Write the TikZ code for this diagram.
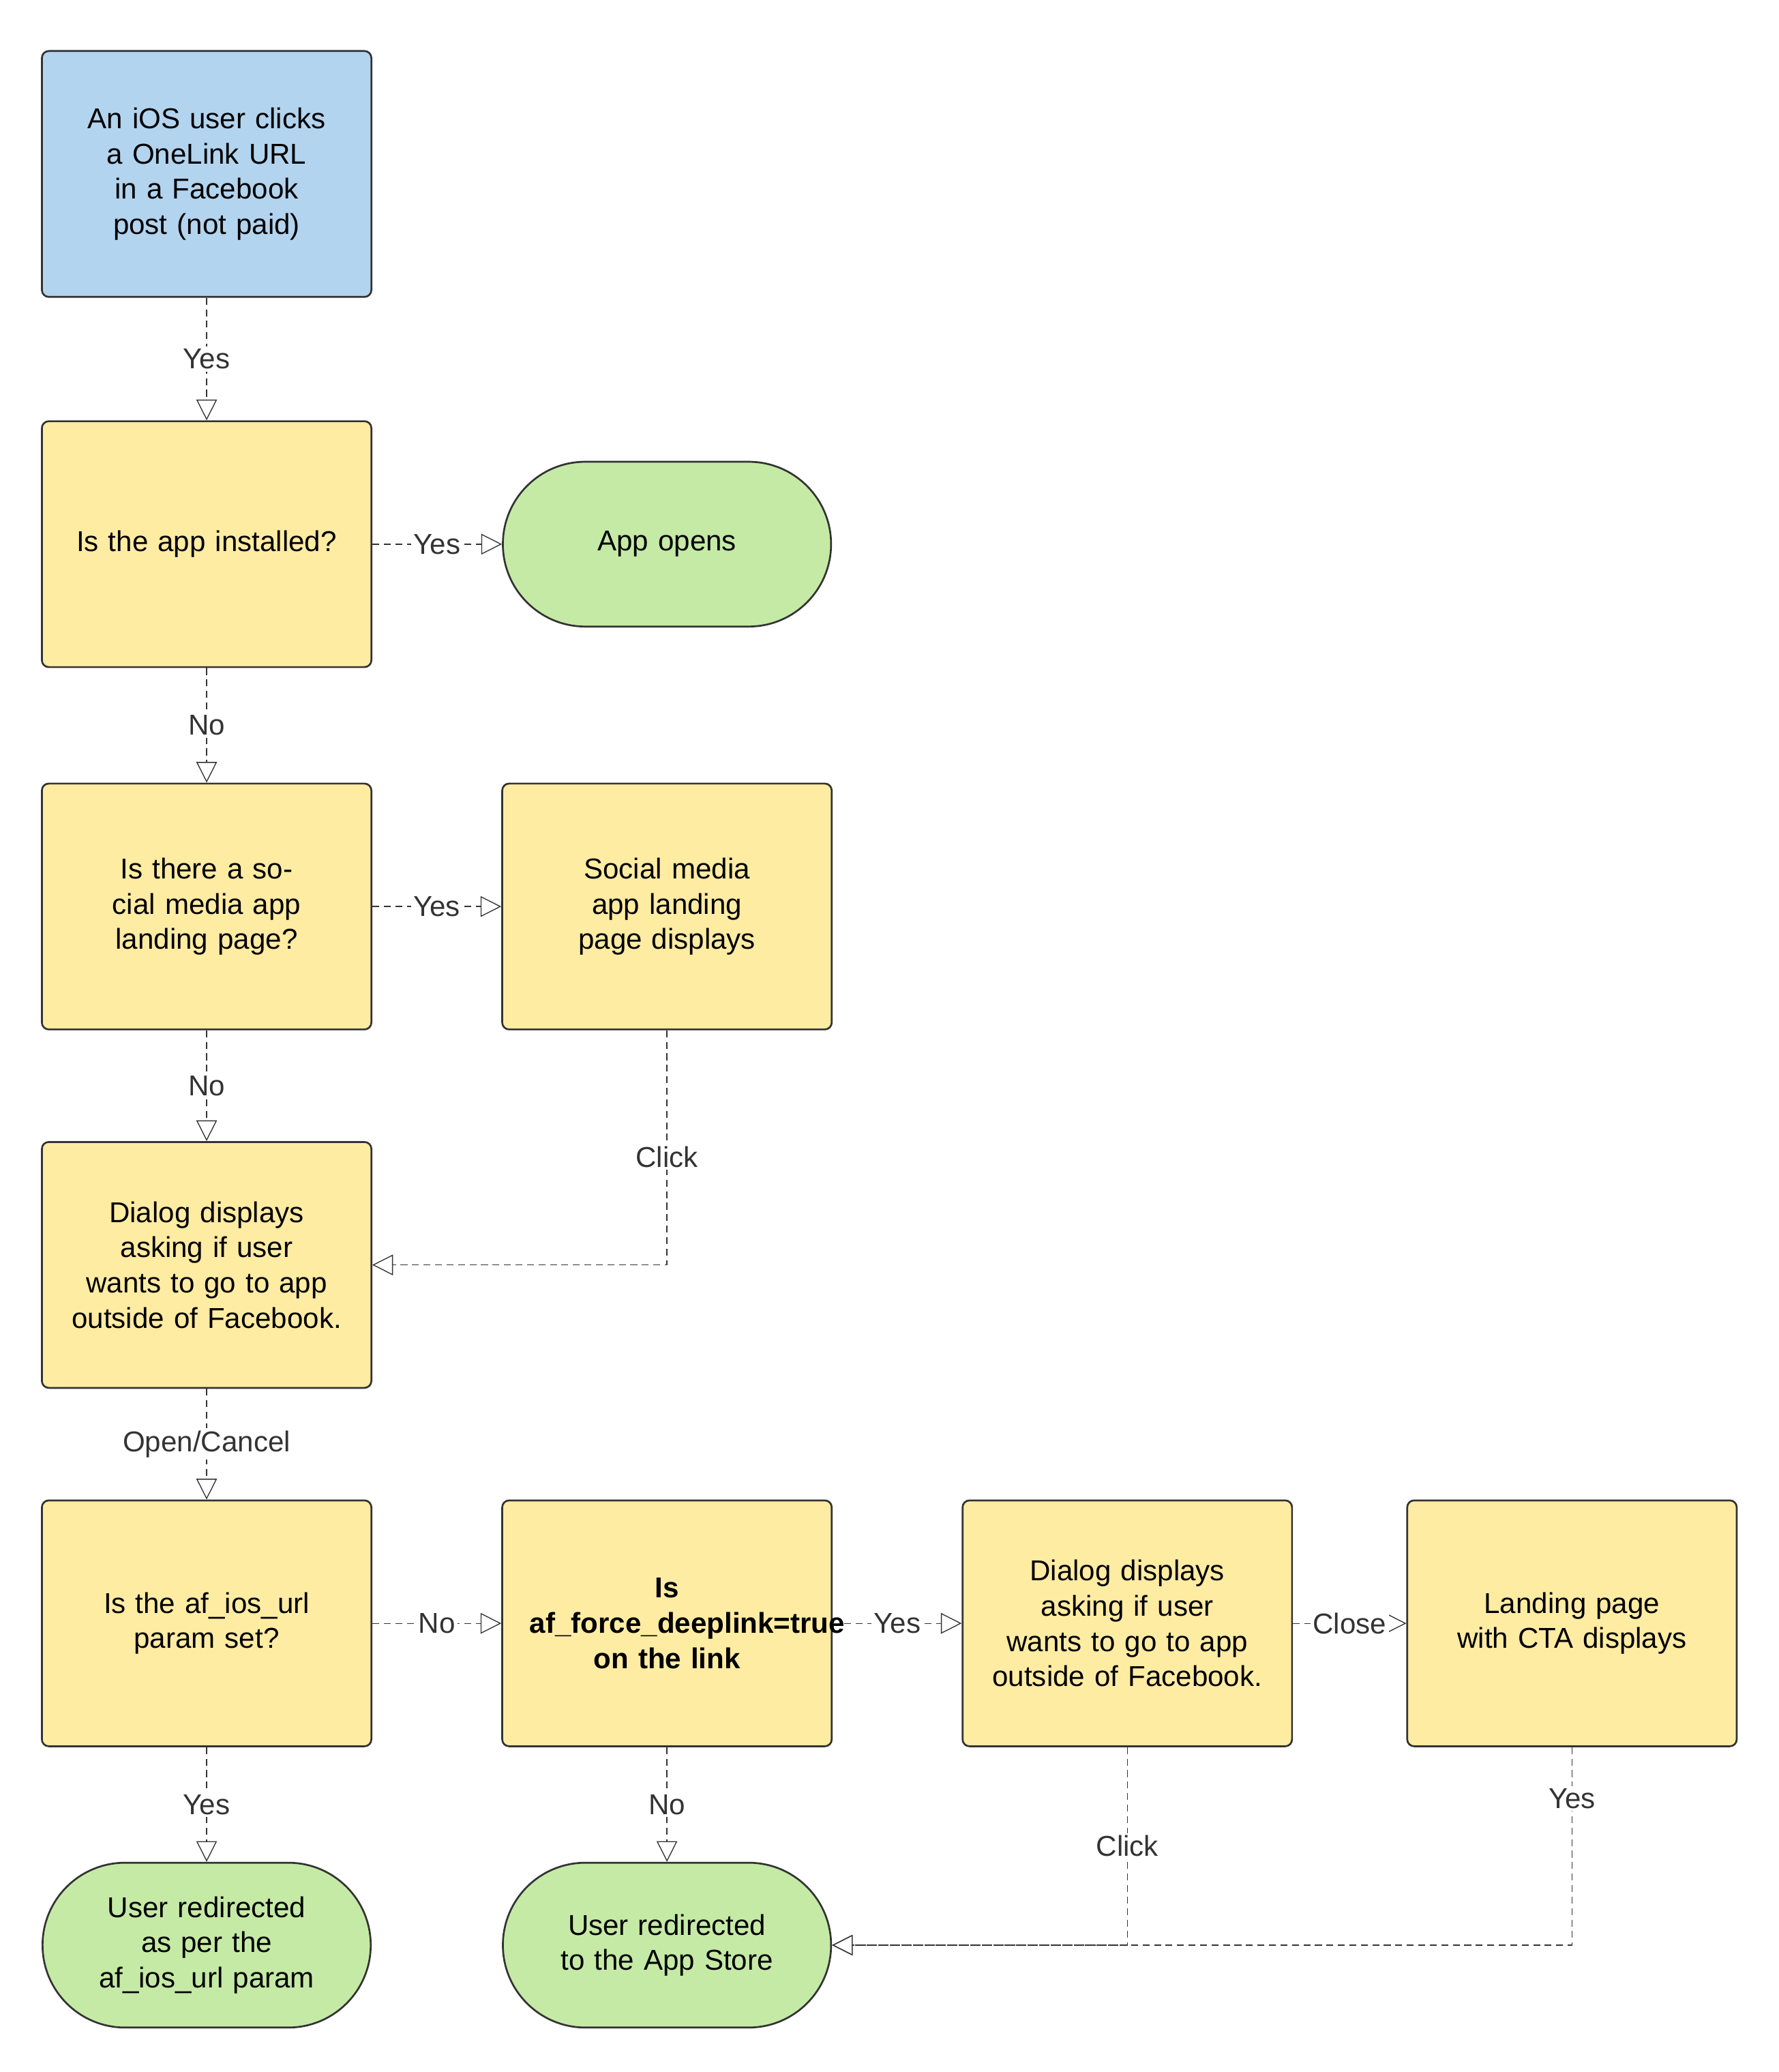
\documentclass[tikz,border=0pt]{standalone}
\usepackage{fontspec}
\setmainfont{Liberation Sans}
\usetikzlibrary{arrows.meta}
\definecolor{startblue}{RGB}{179,212,239}
\definecolor{stepyellow}{RGB}{255,236,163}
\definecolor{endgreen}{RGB}{197,234,166}
\begin{document}
\begin{tikzpicture}[x=0.02cm, y=-0.02cm, >={Triangle[open,length=9pt,width=9pt]},
  every node/.style={font=\fontsize{12.5}{15.3}\selectfont},
  box/.style={draw=black!80, thick, rounded corners=3pt, minimum width=5.04cm, minimum height=3.76cm, align=center, text width=4.2cm},
  term/.style={draw=black!80, thick, rounded corners=1.26cm, fill=endgreen, minimum width=5.02cm, minimum height=2.52cm, align=center, text width=4.2cm},
  link/.style={->, densely dashed, black!80},
  lbl/.style={fill=white, inner sep=1pt}]
    \useasboundingbox (0,0) rectangle (1360,1584);
    \node[box, fill=startblue]  (click)     at (158,133)  {An iOS user clicks a OneLink URL in a Facebook post (not paid)};
    \node[box, fill=stepyellow] (installed) at (158,416)  {Is the app installed?};
    \node[term]                 (opens)     at (510,416)  {App opens};
    \node[box, fill=stepyellow] (social)    at (158,693)  {Is there a social media app landing page?};
    \node[box, fill=stepyellow] (landing)   at (510,693)  {Social media app landing page displays};
    \node[box, fill=stepyellow] (dialog)    at (158,967)  {Dialog displays asking if user wants to go to app outside of Facebook.};
    \node[box, fill=stepyellow] (iosurl)    at (158,1241) {Is the af\_ios\_url param set?};
    \node[box, fill=stepyellow, font=\fontsize{12.5}{15.3}\selectfont\bfseries] (force) at (510,1241) {Is af\_force\_deeplink=true on the link};
    \node[box, fill=stepyellow] (dialogb)   at (862,1241) {Dialog displays asking if user wants to go to app outside of Facebook.};
    \node[box, fill=stepyellow] (cta)       at (1202,1241) {Landing page with CTA displays};
    \node[term]                 (redirect)  at (158,1487) {User redirected as per the af\_ios\_url param};
    \node[term]                 (store)     at (510,1487) {User redirected to the App Store};
    \draw[link] (click) -- node[lbl]{Yes} (installed);
    \draw[link] (installed) -- node[lbl]{Yes} (opens);
    \draw[link] (installed) -- node[lbl]{No} (social);
    \draw[link] (social) -- node[lbl]{Yes} (landing);
    \draw[link] (social) -- node[lbl]{No} (dialog);
    \draw[link] (landing) |- node[lbl, pos=0.27]{Click} (dialog);
    \draw[link] (dialog) -- node[lbl]{Open/Cancel} (iosurl);
    \draw[link] (iosurl) -- node[lbl]{No} (force);
    \draw[link] (iosurl) -- node[lbl]{Yes} (redirect);
    \draw[link] (force) -- node[lbl]{Yes} (dialogb);
    \draw[link] (force) -- node[lbl]{No} (store);
    \draw[link] (dialogb) -- node[lbl]{Close} (cta);
    \draw[link] (dialogb) |- node[lbl, pos=0.25]{Click} (store);
    \draw[link] (cta) |- node[lbl, pos=0.13]{Yes} (store);
\end{tikzpicture}
\end{document}
